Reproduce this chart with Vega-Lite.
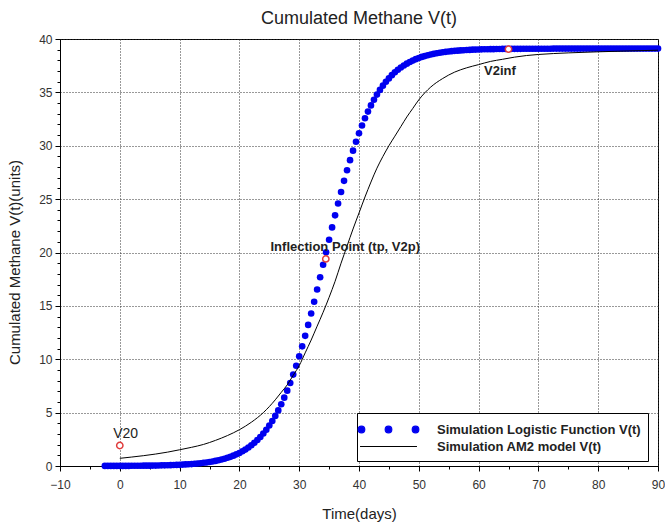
{
  "$schema": "https://vega.github.io/schema/vega-lite/v6.json",
  "width": 598,
  "height": 427,
  "autosize": "none",
  "padding": {"left": 60, "top": 39, "right": 7, "bottom": 58},
  "background": "white",
  "title": {"text": "Cumulated Methane V(t)", "font": "Liberation Sans", "fontSize": 18, "fontWeight": "normal", "color": "#222", "offset": 15, "baseline": "alphabetic", "anchor": "middle", "dy": 24},
  "config": {"view": {"stroke": "black", "strokeWidth": 1}, "font": "Liberation Sans"},
  "datasets": {
    "logistic": [
      {"t": -2.5, "v": 0.01}, {"t": -2, "v": 0.01}, {"t": -1.5, "v": 0.01}, {"t": -1, "v": 0.01}, {"t": -0.5, "v": 0.01},
      {"t": 0, "v": 0.01}, {"t": 0.5, "v": 0.01}, {"t": 1, "v": 0.01}, {"t": 1.5, "v": 0.01}, {"t": 2, "v": 0.02},
      {"t": 2.5, "v": 0.02}, {"t": 3, "v": 0.02}, {"t": 3.5, "v": 0.02}, {"t": 4, "v": 0.03}, {"t": 4.5, "v": 0.03},
      {"t": 5, "v": 0.03}, {"t": 5.5, "v": 0.04}, {"t": 6, "v": 0.04}, {"t": 6.5, "v": 0.05}, {"t": 7, "v": 0.06},
      {"t": 7.5, "v": 0.06}, {"t": 8, "v": 0.07}, {"t": 8.5, "v": 0.08}, {"t": 9, "v": 0.09}, {"t": 9.5, "v": 0.10},
      {"t": 10, "v": 0.11}, {"t": 10.5, "v": 0.13}, {"t": 11, "v": 0.15}, {"t": 11.5, "v": 0.16}, {"t": 12, "v": 0.18},
      {"t": 12.5, "v": 0.21}, {"t": 13, "v": 0.23}, {"t": 13.5, "v": 0.26}, {"t": 14, "v": 0.30}, {"t": 14.5, "v": 0.33},
      {"t": 15, "v": 0.38}, {"t": 15.5, "v": 0.42}, {"t": 16, "v": 0.48}, {"t": 16.5, "v": 0.54}, {"t": 17, "v": 0.61},
      {"t": 17.5, "v": 0.68}, {"t": 18, "v": 0.77}, {"t": 18.5, "v": 0.86}, {"t": 19, "v": 0.97}, {"t": 19.5, "v": 1.09},
      {"t": 20, "v": 1.22}, {"t": 20.5, "v": 1.38}, {"t": 21, "v": 1.54}, {"t": 21.5, "v": 1.73}, {"t": 22, "v": 1.94},
      {"t": 22.5, "v": 2.18}, {"t": 23, "v": 2.44}, {"t": 23.5, "v": 2.72}, {"t": 24, "v": 3.04}, {"t": 24.5, "v": 3.40},
      {"t": 25, "v": 3.79}, {"t": 25.5, "v": 4.22}, {"t": 26, "v": 4.69}, {"t": 26.5, "v": 5.21}, {"t": 27, "v": 5.78},
      {"t": 27.5, "v": 6.40}, {"t": 28, "v": 7.06}, {"t": 28.5, "v": 7.78}, {"t": 29, "v": 8.56}, {"t": 29.5, "v": 9.39},
      {"t": 30, "v": 10.27}, {"t": 30.5, "v": 11.21}, {"t": 31, "v": 12.19}, {"t": 31.5, "v": 13.22}, {"t": 32, "v": 14.29},
      {"t": 32.5, "v": 15.39}, {"t": 33, "v": 16.53}, {"t": 33.5, "v": 17.68}, {"t": 34, "v": 18.85}, {"t": 34.5, "v": 20.02},
      {"t": 35, "v": 21.19}, {"t": 35.5, "v": 22.35}, {"t": 36, "v": 23.48}, {"t": 36.5, "v": 24.59}, {"t": 37, "v": 25.67},
      {"t": 37.5, "v": 26.71}, {"t": 38, "v": 27.70}, {"t": 38.5, "v": 28.65}, {"t": 39, "v": 29.54}, {"t": 39.5, "v": 30.38},
      {"t": 40, "v": 31.17}, {"t": 40.5, "v": 31.90}, {"t": 41, "v": 32.58}, {"t": 41.5, "v": 33.20}, {"t": 42, "v": 33.78},
      {"t": 42.5, "v": 34.31}, {"t": 43, "v": 34.79}, {"t": 43.5, "v": 35.23}, {"t": 44, "v": 35.63}, {"t": 44.5, "v": 35.99},
      {"t": 45, "v": 36.31}, {"t": 45.5, "v": 36.61}, {"t": 46, "v": 36.88}, {"t": 46.5, "v": 37.12}, {"t": 47, "v": 37.33},
      {"t": 47.5, "v": 37.52}, {"t": 48, "v": 37.69}, {"t": 48.5, "v": 37.85}, {"t": 49, "v": 37.98}, {"t": 49.5, "v": 38.11},
      {"t": 50, "v": 38.22}, {"t": 50.5, "v": 38.32}, {"t": 51, "v": 38.40}, {"t": 51.5, "v": 38.48}, {"t": 52, "v": 38.55},
      {"t": 52.5, "v": 38.61}, {"t": 53, "v": 38.67}, {"t": 53.5, "v": 38.71}, {"t": 54, "v": 38.76}, {"t": 54.5, "v": 38.80},
      {"t": 55, "v": 38.83}, {"t": 55.5, "v": 38.86}, {"t": 56, "v": 38.89}, {"t": 56.5, "v": 38.91}, {"t": 57, "v": 38.93},
      {"t": 57.5, "v": 38.95}, {"t": 58, "v": 38.97}, {"t": 58.5, "v": 38.98}, {"t": 59, "v": 39.00}, {"t": 59.5, "v": 39.01},
      {"t": 60, "v": 39.02}, {"t": 60.5, "v": 39.03}, {"t": 61, "v": 39.04}, {"t": 61.5, "v": 39.04}, {"t": 62, "v": 39.05},
      {"t": 62.5, "v": 39.05}, {"t": 63, "v": 39.06}, {"t": 63.5, "v": 39.06}, {"t": 64, "v": 39.07}, {"t": 64.5, "v": 39.07},
      {"t": 65, "v": 39.07}, {"t": 65.5, "v": 39.08}, {"t": 66, "v": 39.08}, {"t": 66.5, "v": 39.08}, {"t": 67, "v": 39.08},
      {"t": 67.5, "v": 39.09}, {"t": 68, "v": 39.09}, {"t": 68.5, "v": 39.09}, {"t": 69, "v": 39.09}, {"t": 69.5, "v": 39.09},
      {"t": 70, "v": 39.09}, {"t": 70.5, "v": 39.09}, {"t": 71, "v": 39.09}, {"t": 71.5, "v": 39.09}, {"t": 72, "v": 39.09},
      {"t": 72.5, "v": 39.1}, {"t": 73, "v": 39.1}, {"t": 73.5, "v": 39.1}, {"t": 74, "v": 39.1}, {"t": 74.5, "v": 39.1},
      {"t": 75, "v": 39.1}, {"t": 75.5, "v": 39.1}, {"t": 76, "v": 39.1}, {"t": 76.5, "v": 39.1}, {"t": 77, "v": 39.1},
      {"t": 77.5, "v": 39.1}, {"t": 78, "v": 39.1}, {"t": 78.5, "v": 39.1}, {"t": 79, "v": 39.1}, {"t": 79.5, "v": 39.1},
      {"t": 80, "v": 39.1}, {"t": 80.5, "v": 39.1}, {"t": 81, "v": 39.1}, {"t": 81.5, "v": 39.1}, {"t": 82, "v": 39.1},
      {"t": 82.5, "v": 39.1}, {"t": 83, "v": 39.1}, {"t": 83.5, "v": 39.1}, {"t": 84, "v": 39.1}, {"t": 84.5, "v": 39.1},
      {"t": 85, "v": 39.1}, {"t": 85.5, "v": 39.1}, {"t": 86, "v": 39.1}, {"t": 86.5, "v": 39.1}, {"t": 87, "v": 39.1},
      {"t": 87.5, "v": 39.1}, {"t": 88, "v": 39.1}, {"t": 88.5, "v": 39.1}, {"t": 89, "v": 39.1}, {"t": 89.5, "v": 39.1},
      {"t": 90, "v": 39.1}
    ],
    "am2": [
      {"t": 0, "v": 0.72}, {"t": 2, "v": 0.84}, {"t": 4, "v": 0.97}, {"t": 6, "v": 1.12}, {"t": 8, "v": 1.3},
      {"t": 10, "v": 1.52}, {"t": 12, "v": 1.75}, {"t": 14, "v": 2.02}, {"t": 16, "v": 2.4}, {"t": 18, "v": 2.85},
      {"t": 20, "v": 3.4}, {"t": 22, "v": 4.1}, {"t": 24, "v": 5.0}, {"t": 26, "v": 6.2}, {"t": 27, "v": 6.9},
      {"t": 28, "v": 7.6}, {"t": 29, "v": 8.5}, {"t": 30, "v": 9.4}, {"t": 31, "v": 10.6}, {"t": 32, "v": 11.8},
      {"t": 33, "v": 13.1}, {"t": 34, "v": 14.4}, {"t": 35, "v": 15.8}, {"t": 36, "v": 17.3}, {"t": 37, "v": 19.0},
      {"t": 38, "v": 20.6}, {"t": 39, "v": 22.2}, {"t": 40, "v": 23.7}, {"t": 41, "v": 25.2}, {"t": 42, "v": 26.6},
      {"t": 43, "v": 27.9}, {"t": 44, "v": 29.0}, {"t": 45, "v": 30.0}, {"t": 46, "v": 30.9}, {"t": 47, "v": 31.8},
      {"t": 48, "v": 32.7}, {"t": 49, "v": 33.5}, {"t": 50, "v": 34.3}, {"t": 52, "v": 35.5}, {"t": 54, "v": 36.3},
      {"t": 56, "v": 36.9}, {"t": 58, "v": 37.3}, {"t": 60, "v": 37.6}, {"t": 62, "v": 37.9}, {"t": 64, "v": 38.1},
      {"t": 66, "v": 38.3}, {"t": 68, "v": 38.45}, {"t": 70, "v": 38.55}, {"t": 75, "v": 38.7}, {"t": 80, "v": 38.8},
      {"t": 85, "v": 38.88}, {"t": 90, "v": 38.95}
    ],
    "markers": [
      {"t": 0, "v": 1.92}, {"t": 34.45, "v": 19.4}, {"t": 65, "v": 39.05}
    ],
    "labelsBold": [
      {"t": 25.2, "v": 20.15, "label": "Inflection Point (tp, V2p)"},
      {"t": 60.9, "v": 36.6, "label": "V2inf"}
    ],
    "labelsReg": [
      {"t": -1.1, "v": 2.64, "label": "V20"}
    ]
  },
  "encoding": {
    "x": {
      "field": "t", "type": "quantitative",
      "scale": {"domain": [-10, 90], "nice": false, "zero": false},
      "axis": {
        "title": "Time(days)",
        "values": [-10, -5, 0, 5, 10, 15, 20, 25, 30, 35, 40, 45, 50, 55, 60, 65, 70, 75, 80, 85, 90],
        "labelExpr": "datum.value % 10 === 0 ? datum.label : ''",
        "labelOverlap": false, "labelFlush": false,
        "tickSize": {"condition": {"test": "datum.value % 10 === 0", "value": 5}, "value": 3},
        "grid": true, "gridDash": [1, 2], "gridColor": "#333", "gridWidth": 1,
        "gridOpacity": {"condition": {"test": "datum.value % 10 === 0", "value": 1}, "value": 0},
        "domainColor": "black", "tickColor": "black",
        "labelFont": "Liberation Sans", "labelFontSize": 12, "labelColor": "#333", "labelPadding": 8,
        "titleFont": "Liberation Sans", "titleFontSize": 15, "titleFontWeight": "normal", "titleColor": "#222",
        "titleY": 52, "titleBaseline": "alphabetic"
      }
    },
    "y": {
      "field": "v", "type": "quantitative",
      "scale": {"domain": [0, 40], "nice": false},
      "axis": {
        "title": "Cumulated Methane V(t)(units)",
        "values": [0,1,2,3,4,5,6,7,8,9,10,11,12,13,14,15,16,17,18,19,20,21,22,23,24,25,26,27,28,29,30,31,32,33,34,35,36,37,38,39,40],
        "labelExpr": "datum.value % 5 === 0 ? datum.label : ''",
        "labelOverlap": false, "labelFlush": false,
        "tickSize": {"condition": {"test": "datum.value % 5 === 0", "value": 5}, "value": 3},
        "grid": true, "gridDash": [1, 2], "gridColor": "#333", "gridWidth": 1,
        "gridOpacity": {"condition": {"test": "datum.value % 5 === 0", "value": 1}, "value": 0},
        "domainColor": "black", "tickColor": "black",
        "labelFont": "Liberation Sans", "labelFontSize": 12, "labelColor": "#333", "labelPadding": 3,
        "titleFont": "Liberation Sans", "titleFontSize": 15, "titleFontWeight": "normal", "titleColor": "#222",
        "titleAngle": 270, "titleX": -46, "titleY": 223, "titleAlign": "center", "titleBaseline": "middle"
      }
    }
  },
  "layer": [
    {
      "data": {"name": "logistic"},
      "mark": {"type": "point", "filled": true, "size": 44, "opacity": 1},
      "encoding": {
        "color": {
          "datum": "Simulation Logistic Function V(t)", "type": "nominal",
          "scale": {"domain": ["Simulation Logistic Function V(t)", "Simulation AM2 model V(t)"], "range": ["#0000f0", "#000000"]},
          "legend": {
            "title": null, "orient": "none", "legendX": 297, "legendY": 374,
            "padding": 7, "strokeColor": "black", "fillColor": "white",
            "symbolSize": 289, "symbolOffset": 15, "labelOffset": 39, "rowPadding": -4,
            "labelFont": "Liberation Sans", "labelFontSize": 13, "labelFontWeight": "bold", "labelColor": "#222", "labelLimit": 400,
            "encode": {
              "symbols": {
                "update": {
                  "shape": {"signal": "datum.value === 'Simulation Logistic Function V(t)' ? 'M-3.57,0A0.39,0.39,0,1,0,-2.79,0A0.39,0.39,0,1,0,-3.57,0ZM-0.39,0A0.39,0.39,0,1,0,0.39,0A0.39,0.39,0,1,0,-0.39,0ZM2.79,0A0.39,0.39,0,1,0,3.57,0A0.39,0.39,0,1,0,2.79,0Z' : 'M-3.35,0L3.35,0'"},
                  "fill": {"signal": "datum.value === 'Simulation Logistic Function V(t)' ? '#0000f0' : 'transparent'"},
                  "stroke": {"signal": "datum.value === 'Simulation Logistic Function V(t)' ? 'transparent' : '#000000'"},
                  "strokeWidth": {"value": 1.2},
                  "size": {"value": 289},
                  "opacity": {"value": 1}
                }
              }
            }
          }
        }
      }
    },
    {
      "data": {"name": "am2"},
      "mark": {"type": "line", "strokeWidth": 1, "interpolate": "monotone"},
      "encoding": {
        "color": {
          "datum": "Simulation AM2 model V(t)", "type": "nominal",
          "legend": {
            "title": null, "orient": "none", "legendX": 297, "legendY": 374,
            "padding": 7, "strokeColor": "black", "fillColor": "white",
            "symbolSize": 289, "symbolOffset": 15, "labelOffset": 39, "rowPadding": -4,
            "labelFont": "Liberation Sans", "labelFontSize": 13, "labelFontWeight": "bold", "labelColor": "#222", "labelLimit": 400,
            "encode": {
              "symbols": {
                "update": {
                  "shape": {"signal": "datum.value === 'Simulation Logistic Function V(t)' ? 'M-3.57,0A0.39,0.39,0,1,0,-2.79,0A0.39,0.39,0,1,0,-3.57,0ZM-0.39,0A0.39,0.39,0,1,0,0.39,0A0.39,0.39,0,1,0,-0.39,0ZM2.79,0A0.39,0.39,0,1,0,3.57,0A0.39,0.39,0,1,0,2.79,0Z' : 'M-3.35,0L3.35,0'"},
                  "fill": {"signal": "datum.value === 'Simulation Logistic Function V(t)' ? '#0000f0' : 'transparent'"},
                  "stroke": {"signal": "datum.value === 'Simulation Logistic Function V(t)' ? 'transparent' : '#000000'"},
                  "strokeWidth": {"value": 1.2},
                  "size": {"value": 289},
                  "opacity": {"value": 1}
                }
              }
            }
          }
        }
      }
    },
    {
      "data": {"name": "markers"},
      "mark": {"type": "point", "shape": "circle", "filled": true, "fill": "white", "stroke": "#e03c3c", "strokeWidth": 1.5, "size": 40, "opacity": 1}
    },
    {
      "data": {"name": "labelsBold"},
      "mark": {"type": "text", "align": "left", "baseline": "alphabetic", "font": "Liberation Sans", "fontSize": 13, "fontWeight": "bold", "color": "#222"},
      "encoding": {"text": {"field": "label"}}
    },
    {
      "data": {"name": "labelsReg"},
      "mark": {"type": "text", "align": "left", "baseline": "alphabetic", "font": "Liberation Sans", "fontSize": 14, "fontWeight": "normal", "color": "#222"},
      "encoding": {"text": {"field": "label"}}
    }
  ]
}
